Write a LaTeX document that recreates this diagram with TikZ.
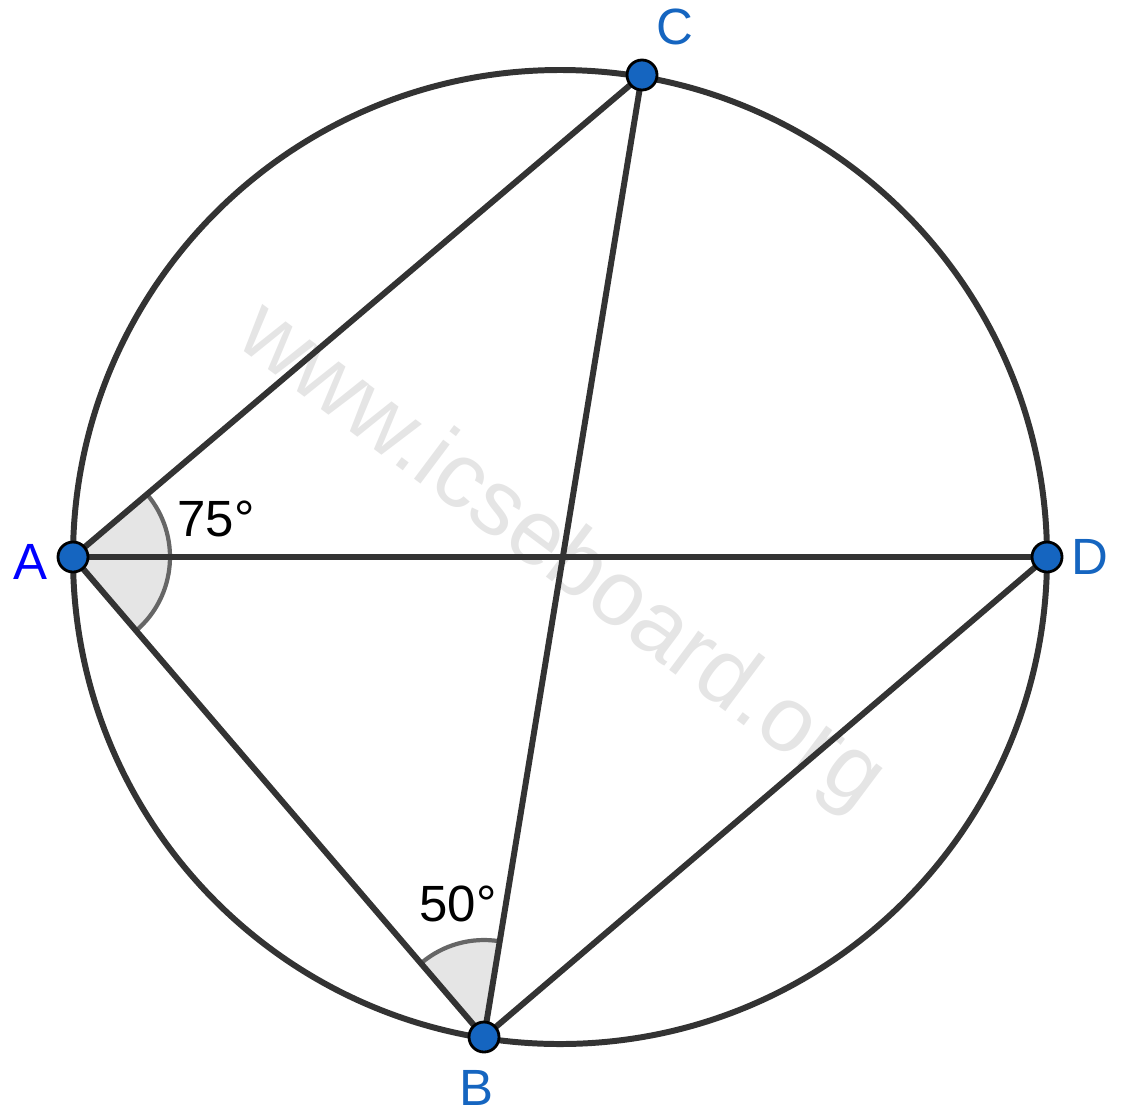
\documentclass[tikz,border=0pt]{standalone}
\usepackage{fontspec}
\setmainfont{Liberation Sans}
\usetikzlibrary{angles}

\definecolor{linegray}{HTML}{333333}
\definecolor{ptblue}{HTML}{1565C0}

\begin{document}
\begin{tikzpicture}[
  seg/.style={draw=linegray, line width=1.7pt},
  pt/.style={circle, fill=ptblue, draw=black, line width=0.8pt, minimum size=0.30cm, inner sep=0pt},
  lbl/.style={text=ptblue, font=\fontsize{14.5}{16}\selectfont},
  anglbl/.style={font=\fontsize{14.5}{16}\selectfont},
  sector/.style={fill=black!10, draw=black!60, line width=1.2pt, angle radius=0.97cm}
]
\useasboundingbox (0,0) rectangle (11.24,-11.17);

% Points
\coordinate (O) at (5.60,-5.57);
\coordinate (A) at (0.73,-5.57);
\coordinate (B) at (4.84,-10.37);
\coordinate (C) at (6.42,-0.75);
\coordinate (D) at (10.47,-5.57);

% Watermark
\node[text=black!10, rotate=-36.8, font=\fontsize{26.3}{28}\selectfont] (mark) at (5.60,-5.58) {www.icseboard.org};

% Angles
\pic[sector] {angle = B--A--C};
\pic[sector] {angle = C--B--A};

% Circle
\draw[seg] (O) circle (4.87);

% Chords
\draw[seg] (A) -- (C);
\draw[seg] (A) -- (D);
\draw[seg] (A) -- (B);
\draw[seg] (B) -- (C);
\draw[seg] (B) -- (D);

% Dots
\node[pt] (pA) at (A) {};
\node[pt] (pB) at (B) {};
\node[pt] (pC) at (C) {};
\node[pt] (pD) at (D) {};

% Labels
\node[lbl, text=blue] (labA) at (0.30,-5.62) {A};
\node[lbl] (labB) at (4.76,-10.88) {B};
\node[lbl] (labC) at (6.75,-0.27) {C};
\node[lbl] (labD) at (10.90,-5.57) {D};
\node[anglbl] (angA) at (2.16,-5.19) {75°};
\node[anglbl] (angB) at (4.58,-9.04) {50°};
\end{tikzpicture}
\end{document}
